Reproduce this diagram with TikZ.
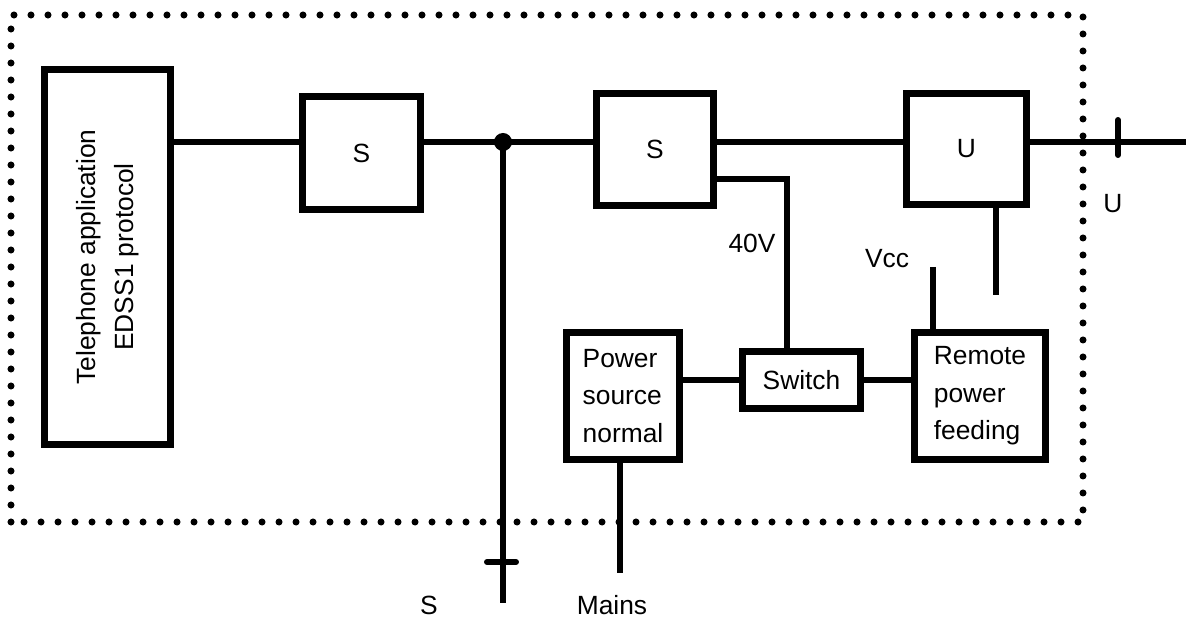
\documentclass[tikz,border=0pt]{standalone}
\usepackage{fontspec}
\setmainfont{Liberation Sans}
\usepackage{tikz}
\usetikzlibrary{positioning}

\begin{document}
\begin{tikzpicture}[
        every node/.style={font=\fontsize{15}{21.3}\selectfont},
        blk/.style={draw, line width=4.25pt, rectangle, inner sep=0pt},
        wire/.style={line width=3.4pt},
        tick/.style={line width=3.4pt, line cap=round},
        border/.style={line width=4pt, line cap=round, dash pattern=on 0pt off 0.34cm}
    ]
    \useasboundingbox (0,0) rectangle (23.72,12.38);

    % frame of the terminal
    \draw[border] (0.22,1.94) rectangle (21.66,12.08);

    % blocks
    \node[blk, minimum width=2.51cm, minimum height=7.49cm] (tel) at (2.15,7.24) {};
    \node[rotate=90, align=center] at (tel.center) {Telephone application\\EDSS1 protocol};
    \node[blk, minimum width=2.35cm, minimum height=2.25cm] (s1) at (7.23,9.32) {S};
    \node[blk, minimum width=2.33cm, minimum height=2.23cm] (s2) at (13.10,9.39) {S};
    \node[blk, minimum width=2.39cm, minimum height=2.21cm] (u) at (19.33,9.40) {U};
    \node[blk, minimum width=2.25cm, minimum height=2.53cm, align=left] (psn) at (12.46,4.46) {Power\\source\\normal};
    \node[blk, minimum width=2.35cm, minimum height=1.15cm] (sw) at (16.03,4.78) {Switch};
    \node[blk, minimum width=2.61cm, minimum height=2.53cm, align=left] (rpf) at (19.60,4.46) {Remote\\power\\feeding};

    % helper points
    \coordinate (jS) at (10.06,9.54);
    \coordinate (endS) at (10.06,0.32);
    \coordinate (endU) at (23.72,9.54);
    \coordinate (endMains) at (12.40,0.92);
    \coordinate (uLeg) at (19.92,6.48);
    \coordinate (vccTop) at (18.66,7.04);
    \coordinate (bend40) at (15.74,8.80);

    % S bus
    \draw[wire] (tel.east |- jS) -- (s1.west |- jS);
    \draw[wire] (s1.east |- jS) -- (jS) -- (s2.west |- jS);
    \draw[wire] (s2.east |- jS) -- (u.west |- jS);
    \draw[wire] (u.east |- jS) -- (endU);
    \fill (jS) circle (0.18);
    \draw[wire] (jS) -- (endS);
    \draw[tick] (9.74,1.14) -- (10.32,1.14);
    \draw[tick] (22.36,9.98) -- (22.36,9.28);

    % power paths
    \draw[wire] (s2.east |- bend40) -- (bend40) -- (bend40 |- sw.north);
    \draw[wire] (sw.west) -- (sw.west -| psn.east);
    \draw[wire] (sw.east) -- (sw.east -| rpf.west);
    \draw[wire] (endMains |- psn.south) -- (endMains);
    \draw[wire] (uLeg |- u.south) -- (uLeg);
    \draw[wire] (vccTop) -- (vccTop |- rpf.north);

    % labels
    \node (labS) at (8.58,0.28) {S};
    \node (labMains) at (12.24,0.28) {Mains};
    \node (labU) at (22.26,8.30) {U};
    \node (lab40) at (15.04,7.52) {40V};
    \node (labVcc) at (17.74,7.20) {Vcc};

\end{tikzpicture}
\end{document}
